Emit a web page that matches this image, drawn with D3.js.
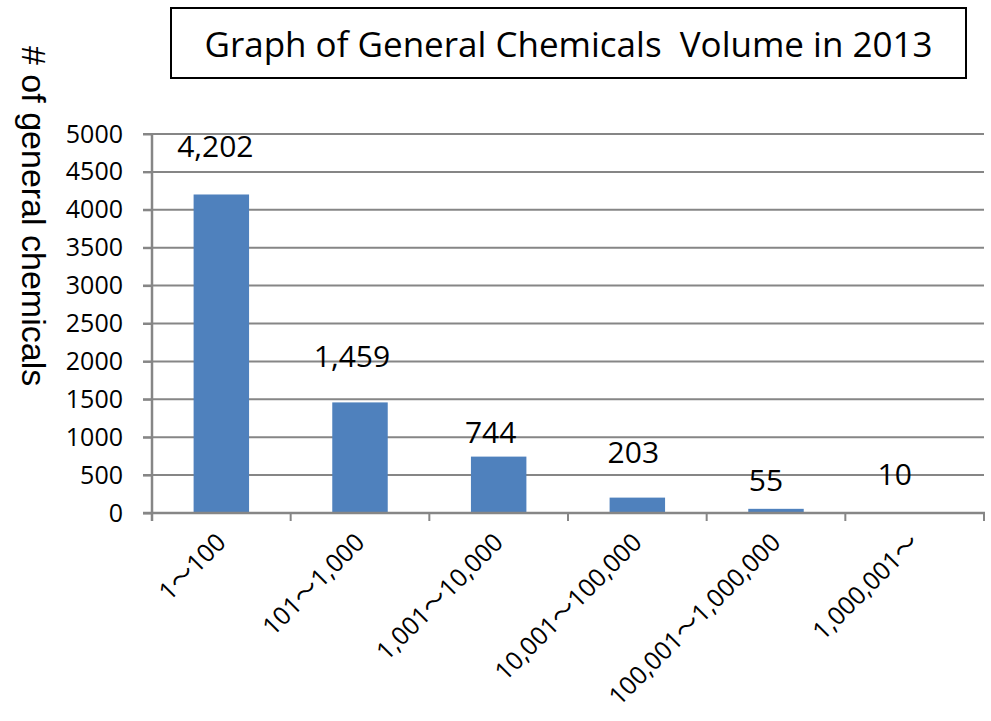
<!DOCTYPE html>
<html>
<head>
<meta charset="utf-8">
<script src="https://cdn.jsdelivr.net/npm/d3@7"></script>
<style>
  html, body { margin: 0; padding: 0; background: #fff; }
  svg { display: block; }
  text { font-family: "Open Sans", "Noto Sans CJK JP", sans-serif; fill: #000; }
</style>
</head>
<body>
<svg id="chart" width="991" height="721"></svg>
<script>
// Number of general chemicals by annual volume band (2013)
const categories = ["1～100", "101～1,000", "1,001～10,000", "10,001～100,000", "100,001～1,000,000", "1,000,001～"];
const counts = [4202, 1459, 744, 203, 55, 10];
const valueLabels = ["4,202", "1,459", "744", "203", "55", "10"];
const yTicks = [0, 500, 1000, 1500, 2000, 2500, 3000, 3500, 4000, 4500, 5000];
const chartTitle = "Graph of General Chemicals  Volume in 2013";
const yTitle = "# of general chemicals";

// hand-placed data label offsets (dx from bar centre, dy baseline from bar top)
const labelNudge = [[-6, -37], [-8, -35], [-8, -14], [-4, -35], [-10, -18], [-20, -27]];

const svg = d3.select("#chart");
const plotL = 152, plotR = 984, plotT = 134, plotB = 513;
const grey = "#868686";

const x = d3.scaleBand().domain(categories).range([plotL, plotR]).paddingInner(0).paddingOuter(0);
const y = d3.scaleLinear().domain([0, 5000]).range([plotB, plotT]);

// horizontal gridlines (extend left to form the y tick marks)
svg.append("g").selectAll("line").data(yTicks.filter(d => d > 0)).join("line")
  .attr("x1", plotL - 9).attr("x2", plotR)
  .attr("y1", d => y(d)).attr("y2", d => y(d))
  .attr("stroke", grey).attr("stroke-width", 2);

// bars
const barW = x.bandwidth() * 0.4;
svg.append("g").selectAll("rect").data(counts).join("rect")
  .attr("x", (d, i) => x(categories[i]) + (x.bandwidth() - barW) / 2)
  .attr("width", barW)
  .attr("y", d => y(d))
  .attr("height", d => y(0) - y(d))
  .attr("fill", "#4F81BD");

// y axis
const yAxis = d3.axisLeft(y).tickValues(yTicks).tickSize(9).tickPadding(20).tickFormat(d3.format("d"));
const gy = svg.append("g").attr("transform", `translate(${plotL},0)`).call(yAxis);
gy.select(".domain").remove();
gy.selectAll(".tick line").attr("stroke", grey).attr("stroke-width", 2);
gy.selectAll(".tick text").attr("font-size", 25).attr("fill", "#000");
svg.append("line").attr("x1", plotL).attr("x2", plotL).attr("y1", plotT).attr("y2", plotB + 8)
  .attr("stroke", grey).attr("stroke-width", 2.5);

// x axis line and boundary ticks
svg.append("line").attr("x1", plotL - 9).attr("x2", plotR + 1).attr("y1", plotB).attr("y2", plotB)
  .attr("stroke", grey).attr("stroke-width", 2.5);
const bounds = categories.map(c => x(c)).concat([plotR]);
svg.append("g").selectAll("line").data(bounds).join("line")
  .attr("x1", d => d).attr("x2", d => d).attr("y1", plotB).attr("y2", plotB + 8)
  .attr("stroke", grey).attr("stroke-width", 2);

// rotated category labels
svg.append("g").selectAll("text").data(categories).join("text")
  .attr("transform", d => `translate(${x(d) + x.bandwidth() / 2 + 6},${plotB + 31}) rotate(-45)`)
  .attr("text-anchor", "end")
  .attr("font-size", 25)
  .text(d => d);

// data labels
svg.append("g").selectAll("text").data(counts).join("text")
  .attr("x", (d, i) => x(categories[i]) + x.bandwidth() / 2 + labelNudge[i][0])
  .attr("y", (d, i) => y(d) + labelNudge[i][1])
  .attr("text-anchor", "middle")
  .attr("font-size", 30)
  .text((d, i) => valueLabels[i]);

// title box
svg.append("rect").attr("x", 171).attr("y", 8).attr("width", 795).attr("height", 70)
  .attr("fill", "#fff").attr("stroke", "#000").attr("stroke-width", 2);
svg.append("text").attr("x", 568.5).attr("y", 57).attr("text-anchor", "middle")
  .attr("font-size", 35).style("white-space", "pre")
  .text(chartTitle);

// y axis title, reading top to bottom
svg.append("text")
  .attr("transform", "translate(22,46) rotate(90)")
  .attr("text-anchor", "start")
  .style("font-family", "'Liberation Sans', Arial, sans-serif")
  .attr("font-size", 34)
  .text(yTitle);
</script>
</body>
</html>
